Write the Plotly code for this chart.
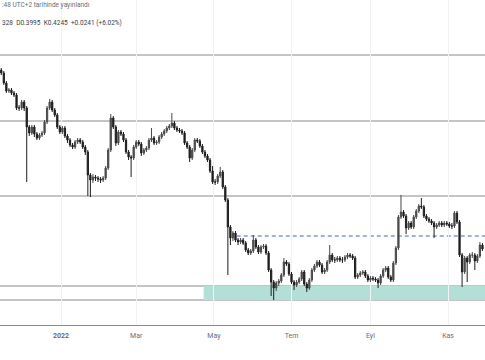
import pandas as pd
import plotly.graph_objects as go

# ---- data (2-day candles) ----
first_open = 1.325
closes = [
    1.310, 1.260, 1.220, 1.225, 1.210, 1.200, 1.135, 1.135, 1.165, 1.135,
    1.040, 1.010, 1.040, 1.005, 0.985, 1.000, 1.010, 1.065, 1.135, 1.165,
    1.125, 1.100, 1.040, 1.015, 1.035, 0.995, 0.975, 0.950, 0.940, 0.965,
    0.975, 0.965, 0.940, 0.915, 0.800, 0.775, 0.790, 0.785, 0.780, 0.775,
    0.785, 0.835, 0.925, 1.085, 1.040, 0.960, 1.015, 1.005, 0.975, 0.915,
    0.890, 0.885, 0.940, 0.965, 0.955, 0.910, 0.925, 0.935, 0.975, 0.985,
    0.960, 0.965, 0.990, 1.005, 1.020, 1.035, 1.045, 1.060, 1.035, 1.025,
    1.020, 1.010, 0.960, 0.940, 0.885, 0.925, 0.975, 0.970, 0.945, 0.915,
    0.895, 0.875, 0.820, 0.765, 0.765, 0.795, 0.815, 0.740, 0.675, 0.540,
    0.485, 0.510, 0.475, 0.465, 0.475, 0.460, 0.425, 0.410, 0.420, 0.475,
    0.440, 0.415, 0.440, 0.445, 0.410, 0.325, 0.265, 0.235, 0.260, 0.270,
    0.300, 0.365, 0.355, 0.305, 0.265, 0.250, 0.265, 0.280, 0.315, 0.255,
    0.235, 0.275, 0.325, 0.345, 0.365, 0.350, 0.315, 0.325, 0.365, 0.400,
    0.375, 0.375, 0.385, 0.375, 0.375, 0.390, 0.400, 0.395, 0.385, 0.290,
    0.300, 0.310, 0.315, 0.295, 0.275, 0.285, 0.280, 0.275, 0.260, 0.295,
    0.325, 0.335, 0.290, 0.275, 0.360, 0.435, 0.590, 0.615, 0.595, 0.535,
    0.560, 0.540, 0.590, 0.620, 0.645, 0.640, 0.595, 0.580, 0.570, 0.560,
    0.540, 0.550, 0.560, 0.550, 0.560, 0.555, 0.545, 0.545, 0.610, 0.565,
    0.400, 0.315, 0.385, 0.365, 0.400, 0.400, 0.370, 0.395, 0.450, 0.430,
]
highs = [
    1.335, 1.320, 1.270, 1.235, 1.235, 1.220, 1.210, 1.150, 1.175, 1.175,
    1.145, 1.050, 1.050, 1.050, 1.015, 1.010, 1.020, 1.075, 1.145, 1.180,
    1.175, 1.135, 1.110, 1.050, 1.045, 1.045, 1.005, 0.985, 0.960, 0.975,
    0.985, 0.985, 0.975, 0.950, 0.925, 0.810, 0.805, 0.800, 0.795, 0.790,
    0.795, 0.845, 0.935, 1.105, 1.095, 1.050, 1.025, 1.025, 1.015, 0.985,
    0.925, 0.900, 0.950, 0.975, 0.975, 0.965, 0.935, 0.945, 0.985, 1.035,
    0.995, 0.975, 1.000, 1.015, 1.030, 1.045, 1.055, 1.110, 1.070, 1.045,
    1.035, 1.030, 1.020, 0.970, 0.950, 0.935, 0.985, 0.985, 0.980, 0.955,
    0.925, 0.905, 0.885, 0.845, 0.780, 0.805, 0.840, 0.825, 0.750, 0.685,
    0.550, 0.520, 0.520, 0.485, 0.485, 0.485, 0.470, 0.435, 0.430, 0.500,
    0.485, 0.450, 0.450, 0.455, 0.455, 0.420, 0.335, 0.275, 0.270, 0.280,
    0.310, 0.385, 0.375, 0.365, 0.315, 0.275, 0.275, 0.290, 0.325, 0.325,
    0.265, 0.285, 0.335, 0.355, 0.375, 0.375, 0.360, 0.335, 0.375, 0.450,
    0.410, 0.390, 0.395, 0.395, 0.390, 0.400, 0.410, 0.410, 0.405, 0.395,
    0.310, 0.320, 0.325, 0.325, 0.305, 0.295, 0.295, 0.290, 0.285, 0.305,
    0.335, 0.345, 0.345, 0.300, 0.370, 0.445, 0.600, 0.700, 0.625, 0.605,
    0.570, 0.570, 0.600, 0.630, 0.655, 0.685, 0.650, 0.605, 0.590, 0.580,
    0.570, 0.560, 0.570, 0.570, 0.570, 0.570, 0.565, 0.560, 0.620, 0.620,
    0.575, 0.410, 0.395, 0.395, 0.410, 0.415, 0.410, 0.405, 0.465, 0.460,
]
lows = [
    1.300, 1.250, 1.210, 1.210, 1.200, 1.190, 1.125, 1.120, 1.125, 1.120,
    0.765, 0.995, 1.000, 0.990, 0.975, 0.975, 0.990, 1.000, 1.055, 1.125,
    1.115, 1.090, 1.030, 1.005, 1.005, 0.985, 0.960, 0.940, 0.930, 0.930,
    0.955, 0.955, 0.930, 0.900, 0.695, 0.690, 0.760, 0.770, 0.765, 0.760,
    0.765, 0.775, 0.825, 0.915, 1.030, 0.945, 0.950, 0.995, 0.965, 0.905,
    0.875, 0.790, 0.875, 0.930, 0.945, 0.895, 0.900, 0.915, 0.925, 0.965,
    0.950, 0.950, 0.955, 0.980, 0.995, 1.010, 1.025, 1.035, 1.025, 1.015,
    1.010, 1.000, 0.950, 0.930, 0.865, 0.875, 0.915, 0.960, 0.935, 0.905,
    0.885, 0.865, 0.810, 0.755, 0.750, 0.755, 0.785, 0.730, 0.665, 0.300,
    0.450, 0.470, 0.465, 0.450, 0.455, 0.450, 0.415, 0.400, 0.400, 0.410,
    0.430, 0.405, 0.405, 0.430, 0.400, 0.315, 0.195, 0.175, 0.220, 0.245,
    0.260, 0.290, 0.345, 0.295, 0.255, 0.225, 0.240, 0.255, 0.270, 0.245,
    0.215, 0.225, 0.265, 0.315, 0.335, 0.340, 0.305, 0.305, 0.315, 0.355,
    0.365, 0.360, 0.365, 0.365, 0.360, 0.365, 0.380, 0.385, 0.375, 0.280,
    0.280, 0.290, 0.300, 0.285, 0.265, 0.265, 0.270, 0.265, 0.235, 0.250,
    0.285, 0.315, 0.280, 0.265, 0.265, 0.350, 0.425, 0.580, 0.585, 0.505,
    0.525, 0.530, 0.530, 0.580, 0.610, 0.630, 0.585, 0.570, 0.560, 0.550,
    0.485, 0.530, 0.540, 0.540, 0.540, 0.545, 0.535, 0.530, 0.535, 0.555,
    0.390, 0.240, 0.305, 0.265, 0.355, 0.385, 0.325, 0.360, 0.385, 0.420,
]
opens = [first_open] + closes[:-1]
dates = pd.date_range("2021-11-15", periods=len(closes), freq="2D")

h_levels = [1.400, 1.070, 0.695, 0.245, 0.175]
zone_low, zone_high, zone_start = 0.175, 0.245, "2022-04-23"
dash_level, dash_start = 0.495, "2022-05-19"

tick_dates = ["2022-01-01", "2022-03-01", "2022-05-01", "2022-07-01", "2022-09-01", "2022-11-01"]
tick_labels = ["<b>2022</b>", "Mar", "May", "Tem", "Eyl", "Kas"]

x_start, x_end = "2021-11-14", "2022-11-30"

fig = go.Figure(go.Candlestick(
    x=dates, open=opens, high=highs, low=lows, close=closes,
    increasing=dict(line=dict(color="#4a4a4a", width=1), fillcolor="#4a4a4a"),
    decreasing=dict(line=dict(color="#1e1e1e", width=1), fillcolor="#1e1e1e"),
    whiskerwidth=0, showlegend=False, hoverinfo="skip",
))

shapes = []
shapes.append(dict(type="rect", xref="x", yref="y", x0=zone_start, x1="2022-12-10",
                   y0=zone_low, y1=zone_high, fillcolor="#b3dfd7",
                   line=dict(width=0), layer="below"))
for lv in h_levels:
    shapes.append(dict(type="line", xref="paper", yref="y", x0=0, x1=1, y0=lv, y1=lv,
                       line=dict(color="#8a8a8a", width=1), layer="below"))
shapes.append(dict(type="line", xref="x", yref="y", x0=dash_start, x1="2022-12-10",
                   y0=dash_level, y1=dash_level,
                   line=dict(color="#3a62d8", width=1, dash="4px,3px"), layer="below"))

fig.update_layout(
    width=485, height=360, autosize=False,
    margin=dict(l=0, r=0, t=0, b=35),
    paper_bgcolor="white", plot_bgcolor="white",
    shapes=shapes,
    xaxis=dict(range=[x_start, x_end], rangeslider=dict(visible=False),
               tickvals=tick_dates, ticktext=tick_labels,
               showgrid=True, gridcolor="#f1f2f5", gridwidth=1,
               showline=True, linecolor="#8a8a8a", linewidth=1,
               ticks="", ticklabelstandoff=4,
               tickfont=dict(family="Roboto", size=7, color="#6a6d78"),
               zeroline=False),
    yaxis=dict(range=[0.05, 1.675], showgrid=False, showticklabels=False,
               zeroline=False, ticks=""),
    annotations=[
        dict(xref="paper", yref="paper", x=0, y=(325 - 5) / 325, xanchor="left", yanchor="middle",
             text=":48 UTC+2 tarihinde yayınlandı", showarrow=False,
             font=dict(family="Roboto", size=6.5, color="#6a6d78")),
        dict(xref="paper", yref="paper", x=0, y=(325 - 23) / 325, xanchor="left", yanchor="middle",
             text="328\u00a0\u00a0D0.3995\u00a0\u00a0K0.4245\u00a0\u00a0+0.0241 (+6.02%)", showarrow=False,
             font=dict(family="Roboto", size=6.5, color="#3a3d48")),
    ],
)

fig.write_html("out.html", config={"responsive": False, "displayModeBar": False})

with open("out.html", "r", encoding="utf-8") as f:
    html = f.read()
html = html.replace("<head>", "<head><style>html,body{margin:0;padding:0;overflow:hidden;}</style>", 1)
with open("out.html", "w", encoding="utf-8") as f:
    f.write(html)
